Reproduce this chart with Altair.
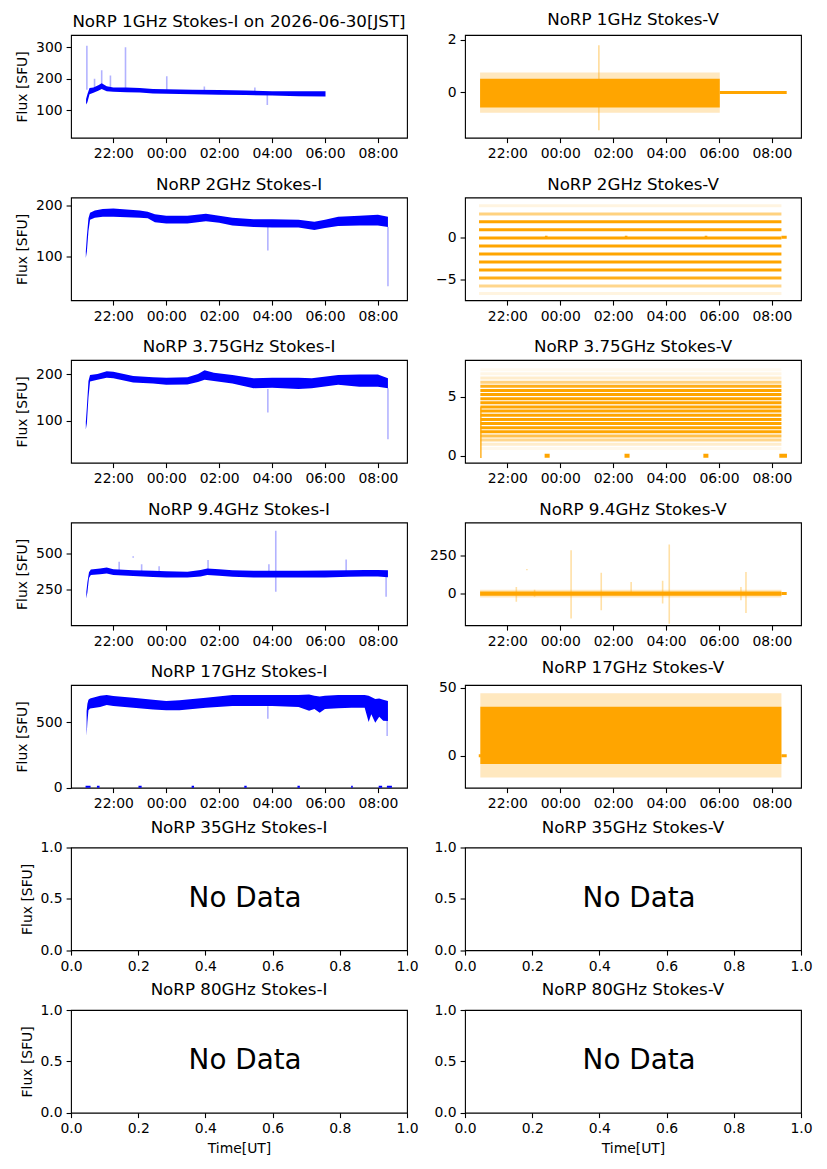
import altair as alt
import pandas as pd

# time is in hours since 00:00 UT of 2026-06-29 (24 = 00:00 of 06-30)
T_DOMAIN = [20.40, 33.10]
T_TICKS = [22, 24, 26, 28, 30, 32]
HOUR_LABEL = "(datum.value % 24 < 10 ? '0' : '') + (datum.value % 24) + ':00'"

BLUE = "#0000ff"
ORANGE = "#ffa500"
FONT = "DejaVu Sans"
W, H = 336, 102.7

# ---------------- Stokes-I: envelope of the dense trace ----------------
i1_t = [20.97, 21.02, 21.10, 21.25, 21.45, 21.56, 21.75, 22.0, 22.5, 23.0, 23.5, 24.0,
        25.0, 26.0, 27.0, 28.0, 29.0, 30.02]
i1_lo = [118, 125, 150, 155, 162, 167, 160, 158, 157, 156, 153, 152, 150, 149, 148, 146, 144, 143]
i1_hi = [135, 150, 170, 172, 180, 185, 176, 172, 172, 170, 167, 166, 165, 164, 162, 160, 160, 160]
i1_spike_t = [21.00, 21.29, 21.56, 21.89, 22.46, 24.02, 25.44, 27.35, 27.82]
i1_spike_lo = [165, 170, 178, 170, 170, 165, 162, 160, 116]
i1_spike_hi = [305, 200, 227, 210, 300, 208, 175, 172, 150]

i2_t = [20.96, 21.00, 21.06, 21.12, 21.3, 21.6, 22.0, 22.5, 23.0, 23.3, 23.57, 24.0, 24.8,
        25.5, 26.0, 26.5, 27.3, 28.0, 29.0, 29.6, 30.0, 30.5, 31.3, 32.0, 32.38]
i2_lo = [97, 110, 150, 172, 176, 178, 178, 177, 176, 175, 167, 165, 165, 169, 166, 161, 158,
         157, 157, 152, 156, 160, 161, 161, 158]
i2_hi = [110, 140, 175, 186, 190, 193, 194, 192, 190, 188, 183, 180, 180, 184, 180, 176, 173,
         173, 172, 168, 172, 178, 180, 182, 178]
i2_spike_t = [27.84, 32.38]
i2_spike_lo = [112, 42]
i2_spike_hi = [160, 158]

i3_t = [20.96, 21.00, 21.06, 21.12, 21.4, 21.75, 22.0, 22.75, 23.5, 24.0, 24.8, 25.2, 25.45,
        25.8, 26.5, 27.3, 28.0, 29.0, 29.5, 30.5, 31.3, 32.0, 32.38]
i3_lo = [82, 95, 150, 184, 188, 192, 191, 182, 180, 177, 178, 183, 188, 185, 180, 170, 171,
         168, 170, 177, 173, 173, 170]
i3_hi = [98, 130, 185, 198, 200, 206, 205, 196, 193, 192, 193, 200, 208, 203, 198, 191, 192,
         192, 191, 198, 199, 199, 191]
i3_spike_t = [27.84, 32.38]
i3_spike_lo = [118, 61]
i3_spike_hi = [168, 170]

i4_t = [20.98, 21.02, 21.08, 21.15, 21.5, 21.75, 22.0, 22.75, 23.5, 24.0, 24.8, 25.3, 25.55,
        26.0, 26.5, 27.3, 28.0, 29.0, 30.0, 30.9, 31.5, 32.0, 32.38]
i4_lo = [187, 230, 330, 350, 355, 361, 350, 343, 337, 333, 333, 340, 350, 345, 338, 333, 333,
         333, 333, 338, 340, 340, 335]
i4_hi = [234, 300, 370, 389, 395, 403, 391, 384, 380, 377, 373, 385, 396, 390, 384, 380, 380,
         380, 382, 384, 386, 386, 384]
i4_spike_t = [22.22, 22.75, 23.07, 23.73, 25.58, 27.88, 28.14, 30.80, 32.31]
i4_spike_lo = [370, 470, 370, 370, 380, 370, 234, 375, 199]
i4_spike_hi = [442, 481, 426, 412, 454, 426, 657, 458, 340]

i5_t = [20.99, 21.02, 21.06, 21.12, 21.5, 21.75, 22.0, 22.75, 23.5, 24.0, 24.5, 25.5, 26.5,
        27.3, 28.0, 29.0, 29.4, 29.6, 29.8, 30.0, 30.5, 31.0, 31.5, 31.65, 31.75, 31.9, 32.05,
        32.2, 32.38]
i5_lo = [393, 500, 590, 604, 615, 629, 622, 609, 595, 589, 590, 609, 622, 622, 622, 614, 585,
         600, 571, 600, 605, 609, 609, 500, 560, 495, 540, 510, 507]
i5_hi = [584, 640, 670, 680, 700, 705, 698, 685, 670, 660, 665, 685, 705, 705, 705, 705, 710,
         700, 695, 700, 705, 705, 705, 700, 690, 675, 680, 670, 660]
i5_spike_t = [27.84, 32.35]
i5_spike_lo = [525, 393]
i5_spike_hi = [620, 600]
# calibration intervals where 17 GHz Stokes-I reads zero
i5_zero_t0 = [20.95, 21.38, 22.95, 24.96, 26.95, 28.96, 30.99, 32.03, 32.34]
i5_zero_t1 = [21.14, 21.48, 23.07, 25.05, 27.04, 29.05, 31.05, 32.16, 32.53]

# ---------------- Stokes-V ----------------
v1_t = [20.97, 30.03]
v1_core_lo = [-0.58, -0.58]
v1_core_hi = [0.52, 0.52]
v1_fringe_lo = [-0.78, -0.78]
v1_fringe_hi = [0.76, 0.76]
v1_spike_t = [25.46]
v1_spike_lo = [-1.45]
v1_spike_hi = [1.80]
v1_zero_t0 = [30.03]
v1_zero_t1 = [32.56]

# 2 GHz V is quantised: level value and share of samples on it
v2_levels = [3.67, 2.73, 1.80, 0.86, -0.08, -1.02, -1.96, -2.90, -3.84, -4.78, -5.72, -6.60]
v2_share = [0.12, 0.5, 1, 1, 1, 1, 1, 1, 1, 0.9, 0.45, 0.12]
v2_span = [20.93, 32.36]
v2_zero_t0 = [23.42, 26.44, 29.46, 32.36]
v2_zero_t1 = [23.52, 26.54, 29.56, 32.56]

v3_levels = [0.62, 0.97, 1.32, 1.67, 2.02, 2.37, 2.72, 3.07, 3.42, 3.77, 4.12, 4.47, 4.82,
             5.17, 5.52, 5.87, 6.22, 6.57, 6.92, 7.27]
v3_share = [0.08, 0.2, 0.45, 0.7, 1, 1, 1, 1, 1, 1, 1, 1, 1, 1, 1, 0.9, 0.5, 0.2, 0.1, 0.06]
v3_span = [20.98, 32.36]
v3_ramp_t = [21.0]
v3_ramp_lo = [-0.2]
v3_ramp_hi = [4.1]
v3_zero_t0 = [23.41, 26.43, 29.41, 32.28]
v3_zero_t1 = [23.60, 26.62, 29.60, 32.57]

v4_t = [20.97, 32.36]
v4_core_lo = [-14, -14]
v4_core_hi = [14, 14]
v4_fringe_lo = [-25, -25]
v4_fringe_hi = [25, 25]
v4_spike_t = [22.34, 22.74, 23.03, 24.41, 25.55, 26.68, 27.87, 28.12, 30.83, 31.02]
v4_spike_lo = [-54, 152, -20, -163, -109, 0, -65, -196, -43, -126]
v4_spike_hi = [43, 160, 25, 283, 135, 76, 83, 320, 43, 141]
v4_zero_t0 = [32.36]
v4_zero_t1 = [32.56]

v5_t = [20.98, 32.36]
v5_core_lo = [-6, -6]
v5_core_hi = [36, 36]
v5_fringe_lo = [-16, -16]
v5_fringe_hi = [46, 46]
v5_zero_t0 = [20.92, 32.36]
v5_zero_t1 = [21.00, 32.56]


def xq(field):
    return alt.X(f"{field}:Q", title=None,
                 scale=alt.Scale(domain=T_DOMAIN, nice=False, zero=False),
                 axis=alt.Axis(values=T_TICKS, labelExpr=HOUR_LABEL))


def yq(field, dom, ticks, title):
    return alt.Y(f"{field}:Q", title=title,
                 scale=alt.Scale(domain=dom, nice=False, zero=False),
                 axis=alt.Axis(values=ticks))


def band(t, lo, hi, color, dom, ticks, title, opacity=1.0):
    df = pd.DataFrame({"t": t, "lo": lo, "hi": hi})
    return alt.Chart(df).mark_area(color=color, opacity=opacity, clip=True).encode(
        x=xq("t"), y=yq("lo", dom, ticks, title), y2="hi:Q")


def spikes(t, lo, hi, color, dom, ticks, title, opacity=0.3):
    df = pd.DataFrame({"t": t, "lo": lo, "hi": hi})
    return alt.Chart(df).mark_rule(color=color, opacity=opacity, strokeWidth=1.6,
                                   clip=True).encode(
        x=xq("t"), y=yq("lo", dom, ticks, title), y2="hi:Q")


def zeros(t0, t1, color, dom, ticks, title, width=3):
    df = pd.DataFrame({"t0": t0, "t1": t1, "v": [0] * len(t0)})
    return alt.Chart(df).mark_rule(color=color, strokeWidth=width, clip=True).encode(
        x=xq("t0"), x2="t1:Q", y=yq("v", dom, ticks, title))


def levels(vals, share, span, dom, ticks):
    df = pd.DataFrame({"v": vals, "share": share, "t0": span[0], "t1": span[1]})
    return alt.Chart(df).mark_rule(color=ORANGE, strokeWidth=3, clip=True).encode(
        x=xq("t0"), x2="t1:Q", y=yq("v", dom, ticks, None),
        opacity=alt.Opacity("share:Q", scale=alt.Scale(domain=[0, 1], range=[0, 1]),
                            legend=None))


def titled(chart, text):
    return chart.properties(width=W, height=H, title=alt.TitleParams(
        text, font=FONT, fontSize=16.7, fontWeight="normal", color="black",
        anchor="middle", baseline="alphabetic", offset=8.3, dy=17))


def no_data(name, title, xtitle):
    df = pd.DataFrame({"x": [0.35], "y": [0.5], "label": ["No Data"]})
    c = alt.Chart(df).mark_text(font=FONT, fontSize=27.8, align="left", baseline="middle",
                                color="black").encode(
        x=alt.X("x:Q", title=xtitle, scale=alt.Scale(domain=[0, 1], nice=False),
                axis=alt.Axis(values=[0, 0.2, 0.4, 0.6, 0.8, 1.0], format=".1f")),
        y=alt.Y("y:Q", title=title, scale=alt.Scale(domain=[0, 1], nice=False),
                axis=alt.Axis(values=[0, 0.5, 1.0], format=".1f")),
        text="label:N")
    return titled(c, name)


FLUX = "Flux [SFU]"

# row 1
d, tk = [12, 339], [100, 200, 300]
p1i = titled(alt.layer(
    spikes(i1_spike_t, i1_spike_lo, i1_spike_hi, BLUE, d, tk, FLUX),
    band(i1_t, i1_lo, i1_hi, BLUE, d, tk, FLUX)),
    "NoRP 1GHz Stokes-I on 2026-06-30[JST]")
d, tk = [-1.73, 2.19], [0, 2]
p1v = titled(alt.layer(
    band(v1_t, v1_fringe_lo, v1_fringe_hi, ORANGE, d, tk, None, 0.25),
    band(v1_t, v1_core_lo, v1_core_hi, ORANGE, d, tk, None),
    spikes(v1_spike_t, v1_spike_lo, v1_spike_hi, ORANGE, d, tk, None, 0.4),
    zeros(v1_zero_t0, v1_zero_t1, ORANGE, d, tk, None)),
    "NoRP 1GHz Stokes-V")

# row 2
d, tk = [14.5, 215.7], [100, 200]
p2i = titled(alt.layer(
    spikes(i2_spike_t, i2_spike_lo, i2_spike_hi, BLUE, d, tk, FLUX),
    band(i2_t, i2_lo, i2_hi, BLUE, d, tk, FLUX)),
    "NoRP 2GHz Stokes-I")
d, tk = [-7.38, 4.65], [-5, 0]
p2v = titled(alt.layer(
    levels(v2_levels, v2_share, v2_span, d, tk),
    zeros(v2_zero_t0, v2_zero_t1, ORANGE, d, tk, None)),
    "NoRP 2GHz Stokes-V")

# row 3
d, tk = [11, 230], [100, 200]
p3i = titled(alt.layer(
    spikes(i3_spike_t, i3_spike_lo, i3_spike_hi, BLUE, d, tk, FLUX),
    band(i3_t, i3_lo, i3_hi, BLUE, d, tk, FLUX)),
    "NoRP 3.75GHz Stokes-I")
d, tk = [-0.59, 8.09], [0, 5]
p3v = titled(alt.layer(
    levels(v3_levels, v3_share, v3_span, d, tk),
    spikes(v3_ramp_t, v3_ramp_lo, v3_ramp_hi, ORANGE, d, tk, None, 0.8),
    zeros(v3_zero_t0, v3_zero_t1, ORANGE, d, tk, None, 4)),
    "NoRP 3.75GHz Stokes-V")

# row 4
d, tk = [2, 715], [250, 500]
p4i = titled(alt.layer(
    spikes(i4_spike_t, i4_spike_lo, i4_spike_hi, BLUE, d, tk, FLUX),
    band(i4_t, i4_lo, i4_hi, BLUE, d, tk, FLUX)),
    "NoRP 9.4GHz Stokes-I")
d, tk = [-206, 463], [0, 250]
p4v = titled(alt.layer(
    band(v4_t, v4_fringe_lo, v4_fringe_hi, ORANGE, d, tk, None, 0.25),
    spikes(v4_spike_t, v4_spike_lo, v4_spike_hi, ORANGE, d, tk, None, 0.35),
    band(v4_t, v4_core_lo, v4_core_hi, ORANGE, d, tk, None),
    zeros(v4_zero_t0, v4_zero_t1, ORANGE, d, tk, None)),
    "NoRP 9.4GHz Stokes-V")

# row 5
d, tk = [0, 782], [0, 500]
p5i = titled(alt.layer(
    spikes(i5_spike_t, i5_spike_lo, i5_spike_hi, BLUE, d, tk, FLUX),
    band(i5_t, i5_lo, i5_hi, BLUE, d, tk, FLUX),
    zeros(i5_zero_t0, i5_zero_t1, BLUE, d, tk, FLUX, 4)),
    "NoRP 17GHz Stokes-I")
d, tk = [-23.4, 52], [0, 50]
p5v = titled(alt.layer(
    band(v5_t, v5_fringe_lo, v5_fringe_hi, ORANGE, d, tk, None, 0.25),
    band(v5_t, v5_core_lo, v5_core_hi, ORANGE, d, tk, None),
    zeros(v5_zero_t0, v5_zero_t1, ORANGE, d, tk, None)),
    "NoRP 17GHz Stokes-V")

panels = [
    p1i, p1v, p2i, p2v, p3i, p3v, p4i, p4v, p5i, p5v,
    no_data("NoRP 35GHz Stokes-I", FLUX, None), no_data("NoRP 35GHz Stokes-V", None, None),
    no_data("NoRP 80GHz Stokes-I", FLUX, "Time[UT]"),
    no_data("NoRP 80GHz Stokes-V", None, "Time[UT]"),
]

chart = alt.concat(
    *panels, columns=2, spacing={"row": 59.5, "column": 58}, bounds="flush"
).properties(
    padding={"left": 7, "top": 3, "right": 5, "bottom": 5},
    background="white",
).configure_view(
    stroke="black", strokeWidth=1.1
).configure_axis(
    domain=False, grid=False, tickColor="black", tickSize=4.9, tickWidth=1.1,
    labelFont=FONT, labelFontSize=13.9, labelColor="black", labelPadding=4.0,
    labelFlush=False, labelOverlap=False,
    titleFont=FONT, titleFontSize=13.9, titleFontWeight="normal", titleColor="black",
    titlePadding=5.6,
)

chart.save("out.html", embed_options={"renderer": "svg", "actions": False})
